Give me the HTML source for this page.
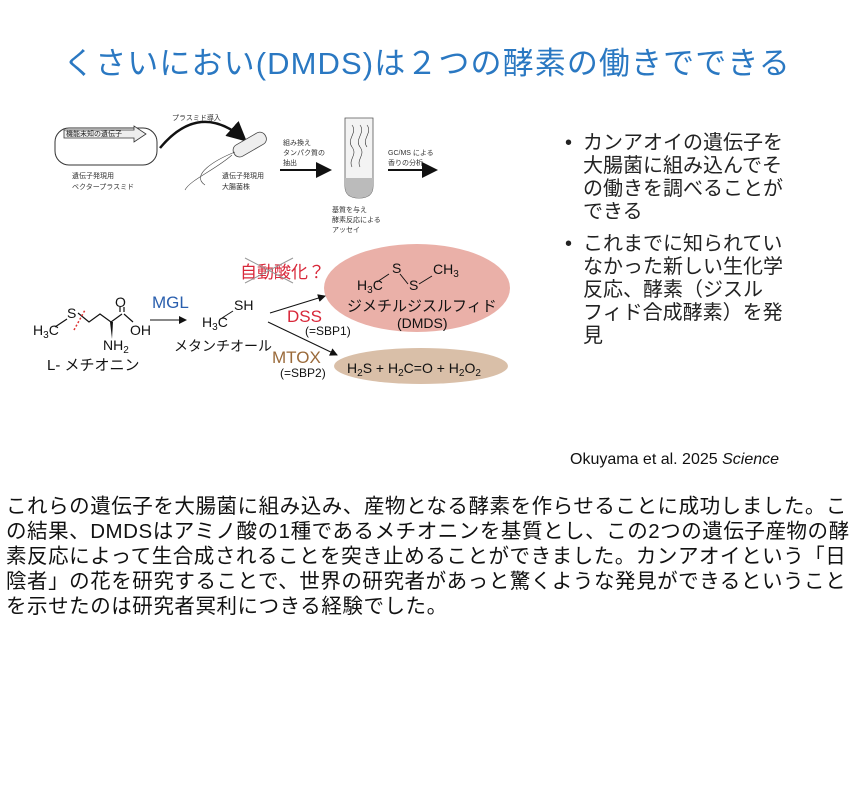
<!DOCTYPE html>
<html><head><meta charset="utf-8"><style>
body{margin:0;width:854px;height:799px;background:#fff;position:relative;overflow:hidden;font-family:"Liberation Sans","Noto Sans CJK JP",sans-serif;}
.t{position:absolute;left:0;width:854px;top:38px;text-align:center;color:#2a78c2;font-size:31px;letter-spacing:1.1px;}
.b{position:absolute;left:565px;width:260px;font-size:20px;line-height:23px;color:#222;white-space:nowrap;}
.b div{position:relative;padding-left:18px;}
.b div:before{content:"•";position:absolute;left:0;}
.ok{position:absolute;left:570px;top:451px;font-size:16px;color:#111;}
.p{position:absolute;left:6px;top:494px;width:880px;font-size:20.5px;line-height:25px;color:#111;white-space:nowrap;letter-spacing:0.55px;}
svg{position:absolute;left:0;top:0}
</style></head><body>
<div class="t">くさいにおい(DMDS)は２つの酵素の働きでできる</div>
<svg width="854" height="440" font-family="Liberation Sans,Noto Sans CJK JP,sans-serif">
<defs><marker id="a" markerWidth="8" markerHeight="8" refX="7" refY="4" orient="auto"><path d="M0,0L8,4L0,8z" fill="#111"/></marker></defs>
<rect x="55" y="128" width="102" height="37" rx="14" fill="none" stroke="#333"/>
<path d="M64,130h70v-4l12,8l-12,8v-4h-70z" fill="#eee" stroke="#333" stroke-width=".8"/>
<text x="66" y="136" font-size="7" fill="#222">機能未知の遺伝子</text>
<text x="72" y="178" font-size="7" fill="#333">遺伝子発現用</text>
<text x="72" y="189" font-size="7" fill="#333">ベクタープラスミド</text>
<text x="172" y="120" font-size="7" fill="#333">プラスミド導入</text>
<path d="M160,148Q200,100 245,140" fill="none" stroke="#111" stroke-width="2.5" marker-end="url(#a)"/>
<rect x="232" y="138" width="36" height="13" rx="6" transform="rotate(-30 250 145)" fill="#eee" stroke="#444" stroke-width=".8"/>
<path d="M235,152C215,160 190,175 205,185M232,155C215,170 190,180 185,190" fill="none" stroke="#444" stroke-width=".6"/>
<text x="222" y="178" font-size="7" fill="#333">遺伝子発現用</text>
<text x="222" y="189" font-size="7" fill="#333">大腸菌株</text>
<text x="283" y="145" font-size="7" fill="#333">組み換え</text>
<text x="283" y="155" font-size="7" fill="#333">タンパク質の</text>
<text x="283" y="165" font-size="7" fill="#333">抽出</text>
<line x1="280" y1="170" x2="330" y2="170" stroke="#111" stroke-width="2" marker-end="url(#a)"/>
<path d="M345,118h28v68q0,12 -14,12q-14,0 -14,-12z" fill="#f3f3f3" stroke="#555" stroke-width=".8"/>
<path d="M345,178h28v8q0,12 -14,12q-14,0 -14,-12z" fill="#bbb"/>
<path d="M352,125c6,8 -6,14 0,22c6,8 -4,12 0,20M360,125c6,8 -6,14 0,22c6,8 -4,12 0,20M367,125c6,8 -6,14 0,22" fill="none" stroke="#333" stroke-width=".6"/>
<text x="332" y="212" font-size="7" fill="#333">基質を与え</text>
<text x="332" y="222" font-size="7" fill="#333">酵素反応による</text>
<text x="332" y="232" font-size="7" fill="#333">アッセイ</text>
<text x="388" y="155" font-size="7" fill="#333">GC/MS による</text>
<text x="388" y="165" font-size="7" fill="#333">香りの分析</text>
<line x1="388" y1="170" x2="436" y2="170" stroke="#111" stroke-width="2" marker-end="url(#a)"/>
<ellipse cx="417" cy="288" rx="93" ry="44" fill="#eab0a8"/>
<ellipse cx="421" cy="366" rx="87" ry="18" fill="#d9bfa8"/>
<g font-size="14" fill="#111">
<text x="33" y="335">H<tspan font-size="10" dy="3">3</tspan><tspan dy="-3">C</tspan></text>
<text x="67" y="318">S</text>
<text x="115" y="307">O</text>
<text x="130" y="335">OH</text>
<text x="103" y="350">NH<tspan font-size="10" dy="3">2</tspan></text>
<text x="47" y="370" font-size="15">L- メチオニン</text>
<text x="234" y="310">SH</text>
<text x="202" y="327">H<tspan font-size="10" dy="3">3</tspan><tspan dy="-3">C</tspan></text>
<text x="174" y="351" font-size="14">メタンチオール</text>
<text x="357" y="290">H<tspan font-size="10" dy="3">3</tspan><tspan dy="-3">C</tspan></text>
<text x="392" y="273">S</text>
<text x="409" y="290">S</text>
<text x="433" y="274">CH<tspan font-size="10" dy="3">3</tspan></text>
<text x="347" y="311" font-size="15">ジメチルジスルフィド</text>
<text x="397" y="328">(DMDS)</text>
<text x="347" y="373">H<tspan font-size="10" dy="3">2</tspan><tspan dy="-3">S  +  H</tspan><tspan font-size="10" dy="3">2</tspan><tspan dy="-3">C=O  +  H</tspan><tspan font-size="10" dy="3">2</tspan><tspan dy="-3">O</tspan><tspan font-size="10" dy="3">2</tspan></text>
</g>
<path d="M55,327l12,-8M78,313l11,9l11,-8l11,8l11,-8M120,312v-5M124,312v-5M124,314l9,8" fill="none" stroke="#111" stroke-width="1.2"/>
<path d="M110,322l3,0l-1,17z" fill="#111"/>
<line x1="74" y1="330" x2="85" y2="310" stroke="#d33" stroke-dasharray="2,2" stroke-width="1.5"/>
<path d="M222,318l11,-7" fill="none" stroke="#111"/>
<path d="M377,282l12,-8M400,274l8,10M419,284l13,-8" fill="none" stroke="#111"/>
<text x="152" y="308" font-size="17" fill="#2a5fae">MGL</text>
<line x1="150" y1="320" x2="186" y2="320" stroke="#111" marker-end="url(#a)"/>
<line x1="270" y1="313" x2="325" y2="296" stroke="#111" marker-end="url(#a)"/>
<line x1="268" y1="322" x2="337" y2="355" stroke="#111" marker-end="url(#a)"/>
<text x="240" y="278" font-size="17" fill="#d8283a">自動酸化？</text>
<path d="M245,258l48,25M245,283l48,-25" stroke="#999" stroke-width="1"/>
<text x="287" y="322" font-size="17" fill="#d8283a">DSS</text>
<text x="305" y="335" font-size="12" fill="#111">(=SBP1)</text>
<text x="272" y="363" font-size="17" fill="#9a6a3a">MTOX</text>
<text x="280" y="377" font-size="12" fill="#111">(=SBP2)</text>
</svg>
<div class="b" style="top:132px"><div>カンアオイの遺伝子を<br>大腸菌に組み込んでそ<br>の働きを調べることが<br>できる</div></div>
<div class="b" style="top:233px"><div>これまでに知られてい<br>なかった新しい生化学<br>反応、酵素（ジスル<br>フィド合成酵素）を発<br>見</div></div>
<div class="ok">Okuyama et al. 2025 <i>Science</i></div>
<div class="p">これらの遺伝子を大腸菌に組み込み、産物となる酵素を作らせることに成功しました。こ<br>の結果、DMDSはアミノ酸の1種であるメチオニンを基質とし、この2つの遺伝子産物の酵<br>素反応によって生合成されることを突き止めることができました。カンアオイという「日<br>陰者」の花を研究することで、世界の研究者があっと驚くような発見ができるということ<br>を示せたのは研究者冥利につきる経験でした。</div>
</body></html>
